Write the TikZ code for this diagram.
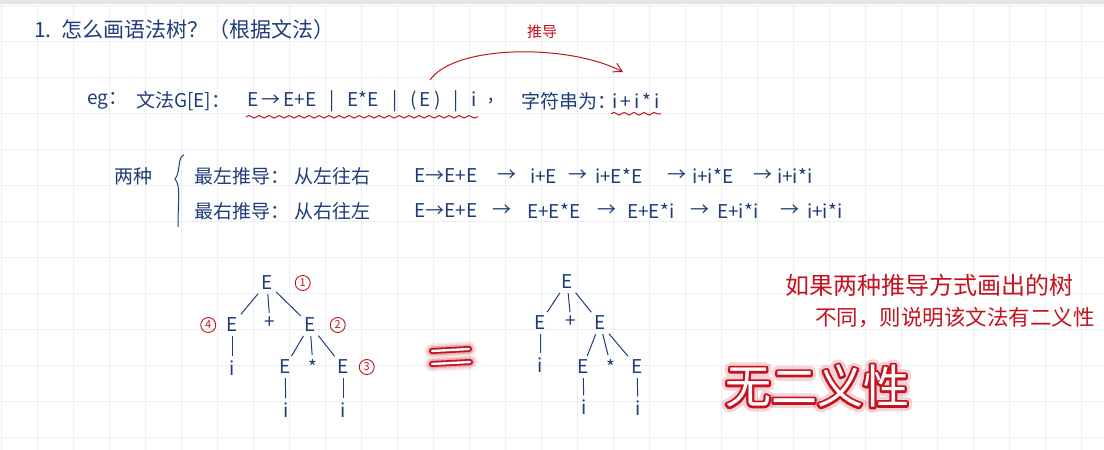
\documentclass[tikz,border=0pt]{standalone}
\usepackage{fontspec}
\setmainfont{Noto Sans CJK SC}
\usetikzlibrary{arrows.meta, positioning, decorations.pathmorphing}
\definecolor{ink}{HTML}{1F3C7A}
\definecolor{redink}{HTML}{C4121F}
\definecolor{gridgrey}{HTML}{ECEEF2}
\newcommand{\fs}[1]{\fontsize{#1}{#1}\selectfont}
% text filled and stroked in red, #1 is the stroke width
\newcommand{\outlined}[2]{\special{pdf:literal direct 2 Tr #1 w 1 j 0.77 0.07 0.12 RG}#2\special{pdf:literal direct 0 Tr 1 w 0 j}}
\newcommand{\sep}{\hspace{13pt}|\hspace{13pt}}
\tikzset{
  hand/.style={text=ink, font=\fs{19}, inner sep=1pt, anchor=west},
  title/.style={hand, font=\fs{21}},
  note/.style={hand, text=redink, font=\fs{22}},
  tnode/.style={text=ink, font=\fs{19}, inner sep=2pt},
  branch/.style={draw=ink, line width=1pt, shorten >=2pt, shorten <=2pt},
  order/.style={circle, draw=redink, text=redink, line width=0.9pt, inner sep=0.5pt,
    minimum size=15pt, font=\fs{11}},
  wavy/.style={draw=redink, line width=1pt, decorate,
    decoration={snake, amplitude=1.3pt, segment length=10pt}},
  derive/.style={-{Straight Barb[length=3mm, width=3.4mm]}, draw=redink, line width=1pt},
  gridline/.style={draw=gridgrey, line width=0.6pt},
  glowword/.style={font=\fs{46}, inner sep=0pt},
}

\begin{document}
\begin{tikzpicture}[x=1pt, y=-1pt]
\useasboundingbox (0,0) rectangle (1104,450);
% paper
\foreach \gx in {1,37,...,1081} \draw[gridline] (\gx,0) -- (\gx,450);
\foreach \gy in {5,41,...,437} \draw[gridline] (0,\gy) -- (1104,\gy);
\fill[gray!20] (0,0) rectangle (1104,4);

% heading and grammar
\node[title] (head) at (33,30) {1.\, 怎么画语法树？（根据文法）};
\node[hand] (eg) at (86,101) {eg：};
\node[hand] (gname) at (135,101) {文法G[E]：};
\node[hand] (gram) at (246,101) {E\,→\,E+E\sep E*E\sep(\,E\,)\sep i};
\node[hand] (comma) at (487,101) {,};
\node[hand] (slab) at (520,101) {字符串为：};
\node[hand] (sent) at (611,101) {i\,+\,i\,*\,i};
\draw[wavy] ([yshift=-4pt]gram.south west) -- ([yshift=-4pt]gram.south east);
\draw[wavy] ([yshift=-4pt]sent.south west) -- ([yshift=-4pt]sent.south east);

\coordinate (arcS) at (430,80);
\coordinate (arcE) at (623,72);
\draw[derive] (arcS) .. controls (455,44) and (570,44) .. (arcE);
\node[note, font=\fs{15}, anchor=center] (dlab) at (542,32) {推导};

% two derivations
\node[hand] (two) at (113,176) {两种};
\draw[ink, line width=1pt] (184,155) .. controls (177,157) and (181,172) .. (175,179)
  .. controls (181,186) and (178,200) .. (178,227);
\node[hand] (lmname) at (193,176) {最左推导：};
\node[hand] (lmdir) at (293,176) {从左往右};
\node[hand] (rmname) at (193,211) {最右推导：};
\node[hand] (rmdir) at (293,211) {从右往左};
\foreach \x/\t [count=\k] in {413/{E→E+E}, 496/→, 529/{i+E}, 567/→, 594/{i+E*E},
    666/→, 691/{i+i*E}, 752/→, 776/{i+i*i}}
  \node[hand] (lm\k) at (\x,176) {\t};
\foreach \x/\t [count=\k] in {413/{E→E+E}, 491/→, 526/{E+E*E}, 596/→, 626/{E+E*i},
    689/→, 716/{E+i*i}, 779/→, 806/{i+i*i}}
  \node[hand] (rm\k) at (\x,211) {\t};

% first tree
\node[tnode] (a0) at (267,283) {E};
\node[tnode] (a1) at (232,325) {E};
\node[tnode] (a2) at (270,323) {+};
\node[tnode] (a3) at (310,325) {E};
\node[tnode] (a4) at (232,368) {i};
\node[tnode] (a5) at (285,367) {E};
\node[tnode] (a6) at (313,367) {*};
\node[tnode] (a7) at (343,367) {E};
\node[tnode] (a8) at (286,410) {i};
\node[tnode] (a9) at (343,410) {i};
\foreach \p/\c in {a0/a1, a0/a2, a0/a3, a1/a4, a3/a5, a3/a6, a3/a7, a5/a8, a7/a9}
  \draw[branch] (\p) -- (\c);
\node[order, right=20pt of a0] (o1) {1};
\node[order, right=12pt of a3] (o2) {2};
\node[order, right=8pt of a7] (o3) {3};
\node[order, left=8pt of a1] (o4) {4};

% equals sign
\foreach \w/\o in {16/0.07, 12/0.12, 9/0.2}
  \draw[redink, line width=\w pt, opacity=\o, line cap=round] (432,351) -- (469,349) (432,364) -- (470,362);
\draw[redink, line width=6pt, line cap=round] (432,351) -- (469,349) (432,364) -- (470,362);
\draw[white, line width=2.4pt, line cap=round] (432,351) -- (469,349) (432,364) -- (470,362);

% second tree
\node[tnode] (b0) at (567,282) {E};
\node[tnode] (b1) at (540,323) {E};
\node[tnode] (b2) at (571,322) {+};
\node[tnode] (b3) at (600,323) {E};
\node[tnode] (b4) at (540,365) {i};
\node[tnode] (b5) at (583,367) {E};
\node[tnode] (b6) at (611,367) {*};
\node[tnode] (b7) at (637,367) {E};
\node[tnode] (b8) at (584,407) {i};
\node[tnode] (b9) at (638,408) {i};
\foreach \p/\c in {b0/b1, b0/b2, b0/b3, b1/b4, b3/b5, b3/b6, b3/b7, b5/b8, b7/b9}
  \draw[branch] (\p) -- (\c);

% remark
\node[note, font=\fs{24}] (rem1) at (784,285) {如果两种推导方式画出的树};
\node[note, font=\fs{21.5}] (rem2) at (814,318) {不同，则说明该文法有二义性};

\node[glowword, text=redink, opacity=0.18] (halo) at (817,386) {\outlined{11}{无二义性}};
\node[glowword, text=redink] (rim) at (halo) {\outlined{4.5}{无二义性}};
\node[glowword, text=white] (noamb) at (halo) {无二义性};
\end{tikzpicture}
\end{document}
